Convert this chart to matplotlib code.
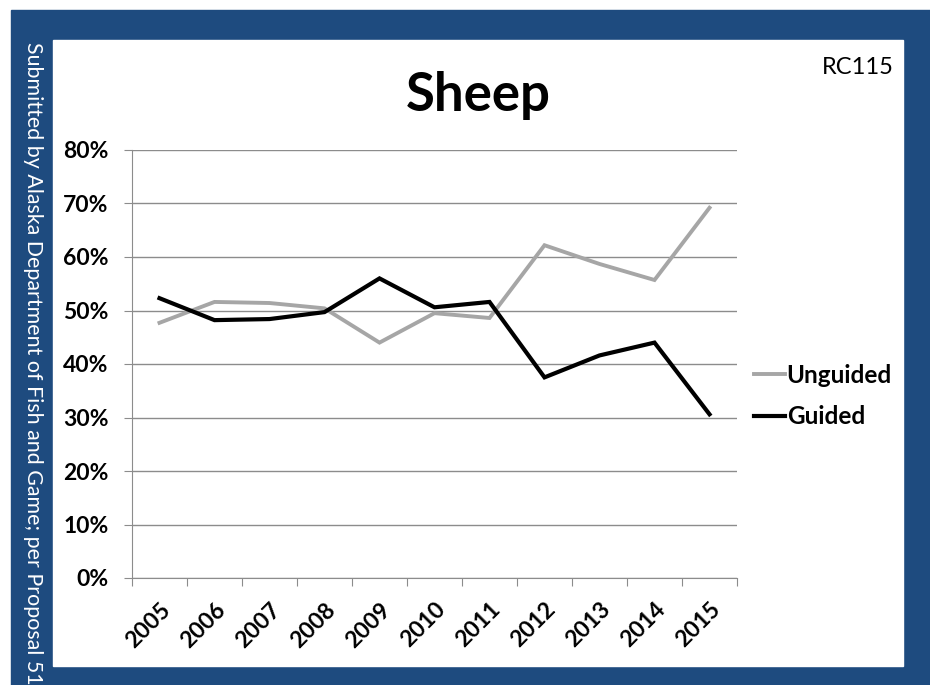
import matplotlib
matplotlib.use("Agg")
import matplotlib.pyplot as plt
from matplotlib.patches import Rectangle
import numpy as np

# data
years = ["2005", "2006", "2007", "2008", "2009", "2010",
         "2011", "2012", "2013", "2014", "2015"]
unguided = [47.7, 51.6, 51.4, 50.4, 44.0, 49.5, 48.6, 62.2, 58.7, 55.7, 69.2]
guided = [52.3, 48.2, 48.4, 49.7, 56.0, 50.6, 51.6, 37.5, 41.6, 44.0, 30.6]
y_ticks = [0, 10, 20, 30, 40, 50, 60, 70, 80]

plt.rcParams["font.family"] = ["Lato", "DejaVu Sans"]

W, H = 930, 685
blue = "#1e4b7f"

fig = plt.figure(figsize=(W / 100, H / 100), dpi=100)
fig.patch.set_facecolor("white")

# blue frame and white slide area (pixel coords turned into figure fractions)
fig.patches.append(Rectangle((11 / W, 0), 1 - 11 / W, 1 - 10 / H,
                             transform=fig.transFigure, color=blue, zorder=-2))
fig.patches.append(Rectangle((53 / W, (H - 666) / H), (903 - 53) / W, (666 - 40) / H,
                             transform=fig.transFigure, color="white", zorder=-1))

ax = fig.add_axes([132 / W, (H - 578) / H, (737 - 132) / W, (578 - 150) / H])
ax.set_facecolor("none")
ax.set_zorder(2)

x = np.arange(len(years))
ax.plot(x, unguided, color="#a6a6a6", lw=2.8, label="Unguided", solid_joinstyle="miter")
ax.plot(x, guided, color="black", lw=3.0, label="Guided", solid_joinstyle="miter")

ax.set_xlim(-0.5, len(years) - 0.5)
ax.set_ylim(0, 80)
ax.set_yticks(y_ticks)
ax.set_yticklabels([f"{v}%" for v in y_ticks], fontsize=16.5, fontweight="bold")
ax.grid(axis="y", color="#8c8c8c", lw=1)
ax.set_axisbelow(True)

ax.set_xticks(np.arange(len(years) + 1) - 0.5)
ax.set_xticklabels([])
ax.set_xticks(x, minor=True)
ax.set_xticklabels(years, minor=True, rotation=45, ha="right", va="top",
                   rotation_mode="anchor", fontsize=16.5, fontweight="bold")
ax.tick_params(axis="x", which="minor", length=0, pad=15)
ax.tick_params(axis="x", which="major", length=6, color="#8c8c8c")
ax.tick_params(axis="y", length=6, color="#8c8c8c", pad=11)

for side in ["top", "right"]:
    ax.spines[side].set_visible(False)
for side in ["left", "bottom"]:
    ax.spines[side].set_color("#8c8c8c")

fig.text(478 / W, 1 - 95 / H, "Sheep", fontsize=38, fontweight="bold",
         ha="center", va="center")
fig.text(894 / W, 1 - 68 / H, "RC115", fontsize=17, ha="right", va="center")
fig.text(33 / W, 1 - 363 / H,
         "Submitted by Alaska Department of Fish and Game; per Proposal 51",
         fontsize=15.4, color="white", rotation=-90, ha="center", va="center")

fig.legend(loc="center left", bbox_to_anchor=(732 / W, 1 - 396 / H), frameon=False,
           prop={"size": 17.5, "weight": "bold"},
           handlelength=1.3, handletextpad=0.05, labelspacing=0.75)

fig.savefig("out.png", dpi=100)
